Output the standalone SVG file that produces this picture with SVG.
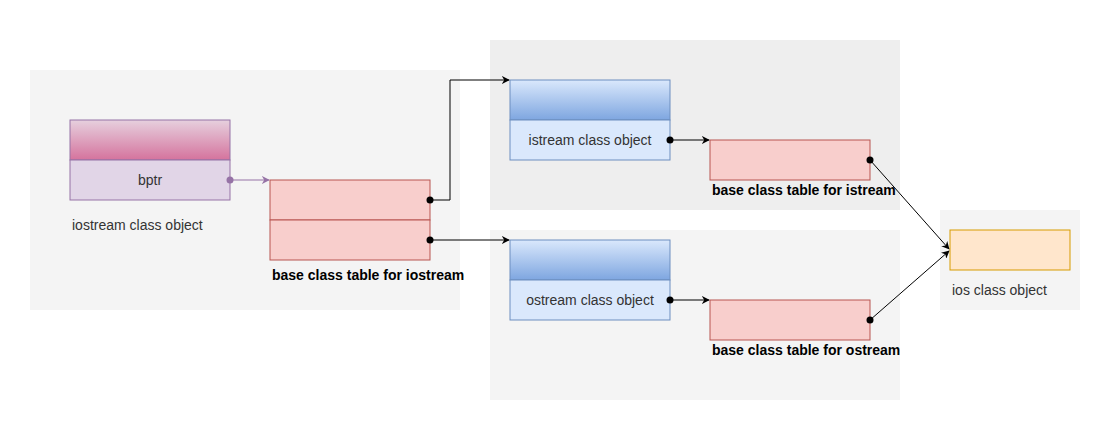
<svg xmlns="http://www.w3.org/2000/svg" width="1120" height="422" viewBox="0 0 1120 422">
<style>
.t{font-family:"Liberation Sans",Arial,sans-serif;font-size:14px;fill:#333333}
.b{font-family:"Liberation Sans",Arial,sans-serif;font-size:14px;font-weight:bold;fill:#000000}
.red{fill:#f8cecc;stroke:#b85450;stroke-width:1}
.blue{fill:#dae8fc;stroke:#6c8ebf;stroke-width:1}
.bh{fill:url(#gb);stroke:#6c8ebf;stroke-width:1}
.c{fill:none;stroke:#000000;stroke-width:1}
.dot{fill:#000000}
</style>
<defs>
<linearGradient id="gp" x1="0" y1="0" x2="0" y2="1"><stop offset="0" stop-color="#e6d0de"/><stop offset="1" stop-color="#d5739d"/></linearGradient>
<linearGradient id="gb" x1="0" y1="0" x2="0" y2="1"><stop offset="0" stop-color="#dae8fc"/><stop offset="1" stop-color="#7ea6e0"/></linearGradient>
<marker id="a" viewBox="0 0 10 10" refX="9" refY="5" markerWidth="8" markerHeight="8" orient="auto" markerUnits="userSpaceOnUse"><path d="M0,0 L10,5 L0,10 L3,5 Z" fill="#000"/></marker>
<marker id="ap" viewBox="0 0 10 10" refX="9" refY="5" markerWidth="8" markerHeight="8" orient="auto" markerUnits="userSpaceOnUse"><path d="M0,0 L10,5 L0,10 L3,5 Z" fill="#9673a6"/></marker>
</defs>
<rect width="1120" height="422" fill="#ffffff"/>
<g id="panels">
<rect x="30" y="70" width="430" height="240" fill="#f4f4f4"/>
<rect x="490" y="40" width="410" height="170" fill="#eeeeee"/>
<rect x="490" y="230" width="410" height="170" fill="#f4f4f4"/>
<rect x="940" y="210" width="140" height="100" fill="#f4f4f4"/>
</g>
<g id="iostream-object">
<rect x="70" y="120" width="160" height="40" fill="url(#gp)" stroke="#9673a6"/>
<rect x="70" y="160" width="160" height="40" fill="#e1d5e7" stroke="#9673a6"/>
<text class="t" x="150" y="185" text-anchor="middle">bptr</text>
<text class="t" x="72" y="230">iostream class object</text>
</g>
<g id="iostream-table">
<rect class="red" x="270" y="180" width="160" height="40"/>
<rect class="red" x="270" y="220" width="160" height="40"/>
<text class="b" x="272" y="280">base class table for iostream</text>
</g>
<g id="istream-object">
<rect class="bh" x="510" y="80" width="160" height="40"/>
<rect class="blue" x="510" y="120" width="160" height="40"/>
<text class="t" x="590" y="145" text-anchor="middle">istream class object</text>
</g>
<g id="istream-table">
<rect class="red" x="710" y="140" width="160" height="40"/>
<text class="b" x="712" y="195">base class table for istream</text>
</g>
<g id="ostream-object">
<rect class="bh" x="510" y="240" width="160" height="40"/>
<rect class="blue" x="510" y="280" width="160" height="40"/>
<text class="t" x="590" y="305" text-anchor="middle">ostream class object</text>
</g>
<g id="ostream-table">
<rect class="red" x="710" y="300" width="160" height="40"/>
<text class="b" x="712" y="355">base class table for ostream</text>
</g>
<g id="ios-object">
<rect x="950" y="230" width="120" height="40" fill="#ffe6cc" stroke="#d79b00"/>
<text class="t" x="952" y="295">ios class object</text>
</g>
<g id="connectors">
<path d="M230,180 L269,180" fill="none" stroke="#9673a6" marker-end="url(#ap)"/>
<circle cx="230" cy="180" r="3.5" fill="#9673a6"/>
<path class="c" d="M430,200 L450,200 L450,80 L509,80" marker-end="url(#a)"/>
<circle class="dot" cx="430" cy="200" r="3.5"/>
<path class="c" d="M430,240 L509,240" marker-end="url(#a)"/>
<circle class="dot" cx="430" cy="240" r="3.5"/>
<path class="c" d="M670,140 L709,140" marker-end="url(#a)"/>
<circle class="dot" cx="670" cy="140" r="3.5"/>
<path class="c" d="M670,300 L709,300" marker-end="url(#a)"/>
<circle class="dot" cx="670" cy="300" r="3.5"/>
<path class="c" d="M870,160 L949,249" marker-end="url(#a)"/>
<circle class="dot" cx="870" cy="160" r="3.5"/>
<path class="c" d="M870,320 L949,251" marker-end="url(#a)"/>
<circle class="dot" cx="870" cy="320" r="3.5"/>
</g>
</svg>
